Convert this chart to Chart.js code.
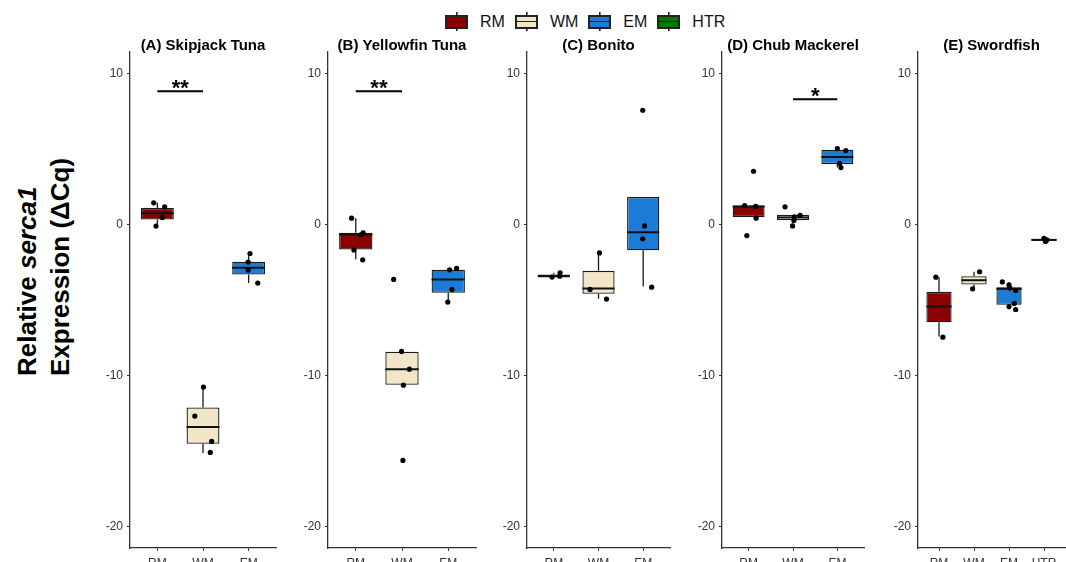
<!DOCTYPE html>
<html>
<head>
<meta charset="utf-8">
<script src="https://cdn.jsdelivr.net/npm/chart.js@4.4.1/dist/chart.umd.min.js"></script>
<style>
body { margin: 0; width: 1066px; height: 562px; background: #fff; position: relative; overflow: hidden; font-family: "Liberation Sans", Arial, sans-serif; }
canvas { position: absolute; top: 0; }
#ytitle { position: absolute; left: 11px; top: 376px; transform-origin: 0 0; transform: rotate(-90deg); font: bold 26px "Liberation Sans", Arial, sans-serif; line-height: 33px; white-space: nowrap; color: #000; }
#legend { position: absolute; left: 445px; top: 12px; display: flex; align-items: center; }
.item { display: flex; align-items: center; margin-right: 10px; }
.key { width: 23px; height: 19px; position: relative; margin-right: 12px;
  background: linear-gradient(#222, #222) center / 1.6px 100% no-repeat; }
.key span { position: absolute; left: 0; top: 2.5px; width: 19px; height: 10px; border: 2px solid #222; }
.key span::before { content: ""; position: absolute; left: 0; right: 0; top: 4.2px; height: 1.6px; background: #222; }
.lab { font-size: 16px; color: #111; }
</style>
</head>
<body>
<div id="ytitle">Relative <i>serca1</i><br>Expression (ΔCq)</div>
<div id="legend"></div>
<script>
// ---- data ----
const groupNames = ["RM", "WM", "EM", "HTR"];
const groupColors = ["#8b0000", "#f3e5c8", "#1c7cd5", "#007a00"];

const titles = ["(A) Skipjack Tuna", "(B) Yellowfin Tuna", "(C) Bonito", "(D) Chub Mackerel", "(E) Swordfish"];
const categories = [
    ["RM", "WM", "EM"],
    ["RM", "WM", "EM"],
    ["RM", "WM", "EM"],
    ["RM", "WM", "EM"],
    ["RM", "WM", "EM", "HTR"]
];
const yTicks = [-20, -10, 0, 10];

const q1 = [
    [0.33, -14.53, -3.31],
    [-1.66, -10.62, -4.52],
    [-3.45, -4.59, -1.7],
    [0.49, 0.29, 4.0],
    [-6.47, -3.97, -5.32, -1.08]
];
const medians = [
    [0.75, -13.42, -2.87],
    [-0.66, -9.58, -3.64],
    [-3.42, -4.24, -0.51],
    [1.2, 0.47, 4.48],
    [-5.43, -3.69, -4.26, -1.02]
];
const q3 = [
    [1.1, -12.12, -2.47],
    [-0.55, -8.43, -3.0],
    [-3.31, -3.07, 1.83],
    [1.26, 0.64, 4.95],
    [-4.46, -3.42, -4.15, -0.95]
];
const whiskerLow = [
    [-0.1, -15.14, -3.88],
    [-2.3, -10.62, -5.14],
    [-3.48, -4.92, -4.1],
    [0.49, 0.29, 3.77],
    [-7.42, -4.26, -5.63, -1.12]
];
const whiskerHigh = [
    [1.44, -10.77, -1.9],
    [0.42, -8.43, -2.91],
    [-3.2, -1.88, 1.83],
    [1.26, 0.64, 5.03],
    [-3.49, -3.13, -3.8, -0.91]
];

// individual samples: group (1-based), jitter (category units), value
const pointGroup = [
    [1, 1, 1, 1, 2, 2, 2, 2, 3, 3, 3, 3],
    [1, 1, 1, 1, 1, 2, 2, 2, 2, 2, 3, 3, 3, 3],
    [1, 1, 1, 2, 2, 2, 3, 3, 3, 3],
    [1, 1, 1, 1, 1, 2, 2, 2, 2, 2, 3, 3, 3, 3],
    [1, 1, 2, 2, 3, 3, 3, 3, 3, 3, 3, 4, 4, 4]
];
const pointJitter = [
    [-0.08, 0.16, 0.11, -0.03, 0.01, -0.18, 0.19, 0.16, 0.03, -0.01, -0.01, 0.2],
    [-0.09, 0.16, 0.11, -0.04, 0.15, -0.18, -0.01, 0.16, 0.03, 0.02, 0.03, 0.18, 0.08, -0.01],
    [-0.04, 0.13, 0.14, 0.02, -0.19, 0.18, -0.01, 0.03, -0.01, 0.19],
    [-0.09, 0.16, 0.17, 0.11, -0.04, -0.18, 0.16, 0.03, 0.02, -0.01, 0.0, 0.19, 0.05, 0.08],
    [-0.09, 0.11, 0.16, -0.04, -0.19, 0.0, 0.02, 0.19, 0.15, 0.0, 0.19, 0.0, 0.08, 0.04]
];
const pointValue = [
    [1.44, 1.17, 0.46, -0.1, -10.77, -12.69, -14.37, -15.1, -1.92, -2.49, -3.02, -3.88],
    [0.42, -0.55, -0.68, -1.68, -2.34, -3.64, -8.41, -9.58, -10.64, -15.63, -3.0, -2.91, -4.3, -5.14],
    [-3.48, -3.42, -3.2, -1.88, -4.3, -4.94, 7.57, -0.09, -0.95, -4.15],
    [1.26, 1.2, 0.42, 3.53, -0.73, 1.17, 0.6, 0.51, 0.26, -0.09, 5.03, 4.9, 4.06, 3.77],
    [-3.49, -7.46, -3.13, -4.26, -3.8, -4.0, -4.2, -4.37, -5.23, -5.43, -5.63, -0.91, -1.02, -1.12]
];

// significance brackets
const sigFrom = [1, 1, null, 2, null];
const sigTo = [2, 2, null, 3, null];
const sigY = [8.83, 8.83, null, 8.3, null];
const sigLabel = ["**", "**", "", "*", ""];

// ---- layout ----
const axisLeft = [130, 328, 527, 722, 918];
const plotWidth = [146, 148, 143, 142, 147];
const plotTop = 52;
const yAxisWidth = 45;
const xAxisHeight = 14;
const FONT = '"Liberation Sans", Arial, sans-serif';

// legend
const legend = document.getElementById("legend");
groupNames.forEach((name, i) => {
    const item = document.createElement("div");
    item.className = "item";
    item.innerHTML = `<div class="key"><span style="background:${groupColors[i]}"></span></div><div class="lab">${name}</div>`;
    legend.appendChild(item);
});

function makePanel(p) {
    const cats = categories[p];
    const canvas = document.createElement("canvas");
    const w = yAxisWidth + plotWidth[p] + 4;
    canvas.width = w;
    canvas.height = 562;
    canvas.style.left = (axisLeft[p] - yAxisWidth) + "px";
    canvas.style.width = w + "px";
    canvas.style.height = "562px";
    document.body.appendChild(canvas);

    const boxData = cats.map((c, i) => ({ x: i + 1, y: [q1[p][i], q3[p][i]] }));
    const points = pointValue[p].map((v, i) => ({ x: pointGroup[p][i] + pointJitter[p][i], y: v }));

    const datasets = [
        {
            type: "scatter",
            data: points,
            backgroundColor: "#000",
            borderWidth: 0,
            pointRadius: 2.6,
            order: 0
        },
        {
            type: "bar",
            data: boxData,
            backgroundColor: cats.map((c, i) => groupColors[groupNames.indexOf(c)]),
            borderColor: "#1a1a1a",
            borderWidth: 1.3,
            borderSkipped: false,
            categoryPercentage: 1,
            barPercentage: 0.72,
            order: 2
        }
    ];
    if (sigFrom[p] !== null) {
        datasets.push({
            type: "line",
            data: [{ x: sigFrom[p], y: sigY[p] }, { x: sigTo[p], y: sigY[p] }],
            borderColor: "#000",
            borderWidth: 2,
            pointRadius: 0,
            order: 1
        });
    }

    const boxPlugin = {
        id: "boxExtras" + p,
        beforeDatasetDraw(chart, args) {
            if (args.meta.type !== "bar") return;
            const ctx = chart.ctx, xs = chart.scales.x, ys = chart.scales.y;
            ctx.save();
            ctx.strokeStyle = "#1a1a1a";
            ctx.lineWidth = 1.3;
            cats.forEach((c, i) => {
                const x = xs.getPixelForValue(i + 1);
                ctx.beginPath();
                ctx.moveTo(x, ys.getPixelForValue(q3[p][i]));
                ctx.lineTo(x, ys.getPixelForValue(whiskerHigh[p][i]));
                ctx.moveTo(x, ys.getPixelForValue(q1[p][i]));
                ctx.lineTo(x, ys.getPixelForValue(whiskerLow[p][i]));
                ctx.stroke();
            });
            ctx.restore();
        },
        afterDatasetDraw(chart, args) {
            if (args.meta.type !== "bar") return;
            const ctx = chart.ctx, ys = chart.scales.y;
            ctx.save();
            ctx.strokeStyle = "#111";
            ctx.lineWidth = 2;
            args.meta.data.forEach((bar, i) => {
                const y = ys.getPixelForValue(medians[p][i]);
                ctx.beginPath();
                ctx.moveTo(bar.x - bar.width / 2, y);
                ctx.lineTo(bar.x + bar.width / 2, y);
                ctx.stroke();
            });
            ctx.restore();
        },
        afterDraw(chart) {
            const ctx = chart.ctx, area = chart.chartArea;
            ctx.save();
            ctx.fillStyle = "#000";
            ctx.textAlign = "center";
            ctx.textBaseline = "alphabetic";
            ctx.font = "bold 15px " + FONT;
            ctx.fillText(titles[p], (area.left + area.right) / 2, 50);
            if (sigFrom[p] !== null) {
                const xs = chart.scales.x, ys = chart.scales.y;
                ctx.font = "bold 22px " + FONT;
                ctx.fillText(sigLabel[p], xs.getPixelForValue((sigFrom[p] + sigTo[p]) / 2), ys.getPixelForValue(sigY[p]) + 4);
            }
            ctx.restore();
        }
    };

    const axisStyle = {
        grid: { display: true, drawOnChartArea: false, drawTicks: true, tickLength: 3, color: "#333", offset: false },
        border: { display: true, color: "#333", width: 1.3 }
    };

    new Chart(canvas, {
        type: "bar",
        data: { datasets },
        options: {
            responsive: false,
            animation: false,
            devicePixelRatio: 1,
            layout: { padding: { top: plotTop, right: 4, left: 0, bottom: 0 } },
            plugins: { legend: { display: false }, tooltip: { enabled: false }, title: { display: false } },
            scales: {
                x: {
                    type: "linear",
                    offset: false,
                    min: 0.4,
                    max: cats.length + 0.6,
                    afterBuildTicks: s => { s.ticks = cats.map((c, i) => ({ value: i + 1 })); },
                    afterFit: s => { s.height = xAxisHeight; },
                    ticks: {
                        autoSkip: false,
                        maxRotation: 0,
                        padding: 5,
                        color: "#333",
                        font: { size: 12, family: FONT },
                        callback: v => cats[Math.round(v) - 1]
                    },
                    ...axisStyle
                },
                y: {
                    min: -21.43,
                    max: 11.43,
                    afterBuildTicks: s => { s.ticks = yTicks.map(v => ({ value: v })); },
                    afterFit: s => { s.width = yAxisWidth; },
                    ticks: {
                        padding: 4,
                        color: "#333",
                        font: { size: 12, family: FONT }
                    },
                    ...axisStyle
                }
            }
        },
        plugins: [boxPlugin]
    });
}

for (let p = 0; p < titles.length; p++) makePanel(p);
</script>
</body>
</html>
